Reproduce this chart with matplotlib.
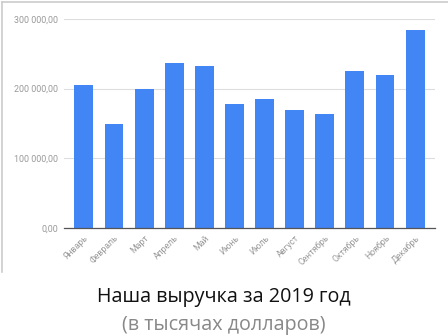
import matplotlib
matplotlib.use("Agg")
import matplotlib.pyplot as plt
from matplotlib.lines import Line2D

plt.rcParams['font.family'] = ['Roboto', 'DejaVu Sans']

months = ["Январь", "Февраль", "Март", "Апрель", "Май", "Июнь",
          "Июль", "Август", "Сентябрь", "Октябрь", "Ноябрь", "Декабрь"]
revenue = [205000, 150000, 200000, 237000, 232000, 178000,
           185000, 169000, 163000, 226000, 220000, 284000]
yticks = [0, 100000, 200000, 300000]
ytick_labels = ["0,00", "100 000,00", "200 000,00", "300 000,00"]

fig = plt.figure(figsize=(4.48, 3.36), dpi=100)
ax = fig.add_axes([64/448, 1 - 228/336, (435-64)/448, (228-19)/336])

x = range(len(months))
ax.bar(x, revenue, width=0.63, color="#4285f4", zorder=3)
ax.set_xlim(-0.66, 11.66)
ax.set_ylim(0, 300000)
ax.set_yticks(yticks)
ax.set_yticklabels(ytick_labels, fontsize=6.4, color="#999999")
ax.set_xticks(list(x))
ax.set_xticklabels(months, rotation=45, ha="right", rotation_mode="anchor",
                   fontsize=6.3, color="#999999")
ax.tick_params(length=0, pad=4)
ax.grid(axis="y", color="#dddddd", linewidth=0.8, zorder=0)
for s in ["top", "right", "left"]:
    ax.spines[s].set_visible(False)
ax.spines["bottom"].set_color("#555555")
ax.spines["bottom"].set_linewidth(0.9)
ax.spines["bottom"].set_zorder(4)

# рамка скриншота
fig.add_artist(Line2D([2/448, 1], [1 - 1.5/336, 1 - 1.5/336], color="#cccccc", lw=1.2))
fig.add_artist(Line2D([2/448, 2/448], [1 - 1.5/336, 1 - 272/336], color="#cccccc", lw=1.2))

fig.text(0.5, 1 - 297/336, "Наша выручка за 2019 год", ha="center", va="center",
         fontsize=14.2, color="#111111", family=['Open Sans', 'DejaVu Sans'])
fig.text(0.5, 1 - 325/336, "(в тысячах долларов)", ha="center", va="center",
         fontsize=14.2, color="#888888", family=['Open Sans', 'DejaVu Sans'])

fig.savefig("out.png", dpi=100)
